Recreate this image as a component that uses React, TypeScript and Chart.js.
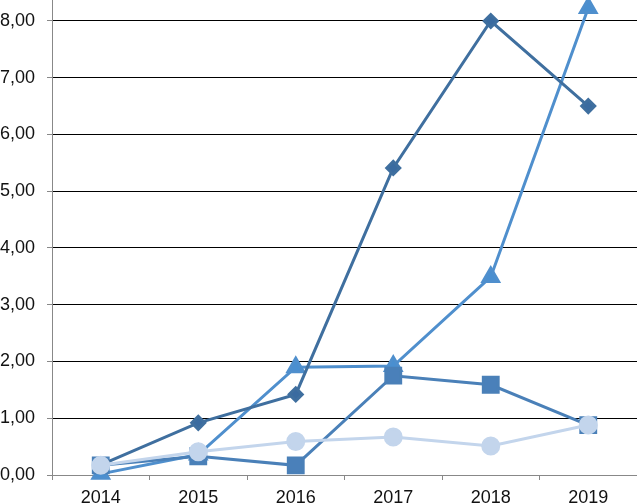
import React, { useEffect, useRef } from "react";
import { Chart, registerables } from "chart.js";

Chart.register(...registerables);

const years = ["2014", "2015", "2016", "2017", "2018", "2019"];
const yTickValues = [0, 1, 2, 3, 4, 5, 6, 7, 8];
const seriesDiamond = [0.18, 0.92, 1.42, 5.41, 8.0, 6.5];
const seriesTriangle = [0.02, 0.36, 1.9, 1.92, 3.49, 8.23];
const seriesSquare = [0.17, 0.33, 0.17, 1.75, 1.59, 0.88];
const seriesCircle = [0.17, 0.41, 0.59, 0.67, 0.51, 0.88];

export default function App() {
  const ref = useRef<HTMLCanvasElement | null>(null);

  useEffect(() => {
    document.body.style.margin = "0";
    const ctx = ref.current!.getContext("2d")!;
    const chart = new Chart(ctx, {
      type: "line",
      data: {
        labels: years,
        datasets: [
          {
            data: seriesCircle,
            borderColor: "#c3d5ec",
            backgroundColor: "#c3d5ec",
            pointStyle: "circle",
            pointRadius: 8,
            borderWidth: 3,
            clip: false,
          },
          {
            data: seriesDiamond,
            borderColor: "#3f6f9f",
            backgroundColor: "#3a6ba0",
            pointStyle: "rectRot",
            pointRadius: 6.5,
            borderWidth: 3,
            clip: false,
          },
          {
            data: seriesSquare,
            borderColor: "#4a80b8",
            backgroundColor: "#4a80ba",
            pointStyle: "rect",
            pointRadius: 10.5,
            borderWidth: 3,
            clip: false,
          },
          {
            data: seriesTriangle,
            borderColor: "#4f8fcd",
            backgroundColor: "#4a8fd0",
            pointStyle: "triangle",
            pointRadius: 9,
            borderWidth: 3,
            clip: false,
          },
        ] as any,
      },
      options: {
        animation: false,
        responsive: false,
        maintainAspectRatio: false,
        layout: { autoPadding: false, padding: { top: 0, right: 0, left: 0, bottom: 0 } },
        plugins: {
          legend: { display: false },
          tooltip: { enabled: false },
        },
        elements: { line: { tension: 0 }, point: { borderWidth: 0 } },
        scales: {
          x: {
            offset: true,
            grid: {
              offset: true,
              drawOnChartArea: false,
              drawTicks: true,
              tickLength: 5,
              color: "#888888",
            },
            border: { color: "#888888", width: 1 },
            ticks: {
              color: "#111111",
              font: { family: "'Liberation Sans', Arial", size: 18 },
              padding: 7,
              maxRotation: 0,
            },
            afterFit: (s: any) => {
              s.height = 29;
              s.paddingLeft = 0;
              s.paddingRight = 0;
            },
          },
          y: {
            min: 0,
            max: 8.37,
            afterBuildTicks: (s: any) => {
              s.ticks = yTickValues.map((v) => ({ value: v }));
            },
            grid: {
              color: "#000000",
              lineWidth: 1,
              tickLength: 5,
              tickColor: "#888888",
            },
            border: { color: "#888888", width: 1 },
            ticks: {
              color: "#111111",
              font: { family: "'Liberation Sans', Arial", size: 18 },
              padding: 12,
              callback: (v: any) => Number(v).toFixed(2).replace(".", ","),
            },
            afterFit: (s: any) => {
              s.width = 52;
              s.paddingTop = 0;
              s.paddingBottom = 0;
            },
          },
        },
      },
    });
    return () => chart.destroy();
  }, []);

  return (
    <div style={{ position: "absolute", left: 0, top: 0, width: 637, height: 504 }}>
      <canvas ref={ref} width={637} height={504} style={{ width: 637, height: 504 }} />
    </div>
  );
}
